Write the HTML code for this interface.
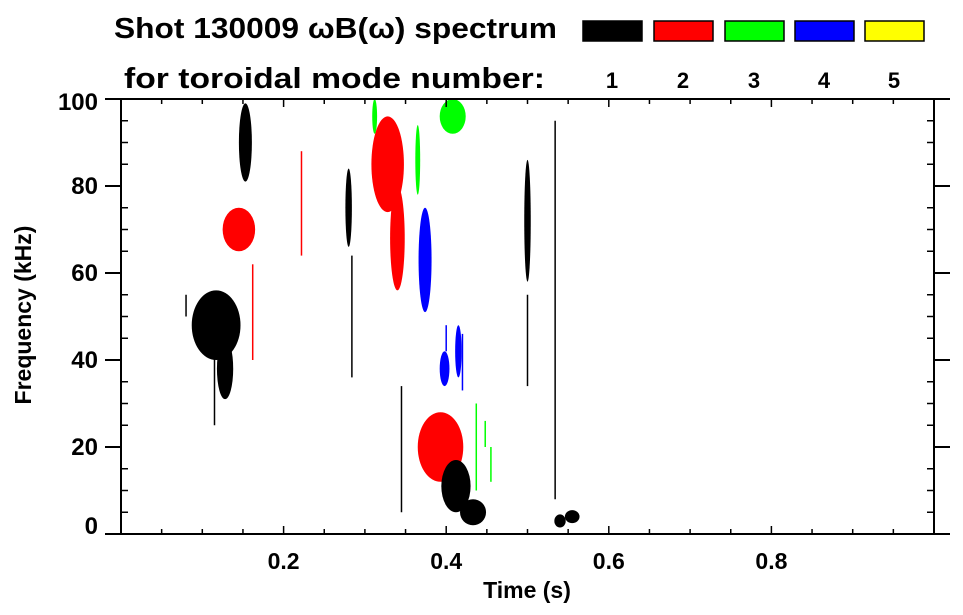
<!DOCTYPE html>
<html><head><meta charset="utf-8"><style>
html,body{margin:0;padding:0;background:#fff;}
svg{display:block;font-family:"Liberation Sans",sans-serif;font-weight:bold;}
</style></head><body>
<svg id="chart" width="963" height="615" viewBox="0 0 963 615" xmlns="http://www.w3.org/2000/svg">
<text x="114" y="38" font-size="29" textLength="443" lengthAdjust="spacingAndGlyphs">Shot 130009 ωB(ω) spectrum</text>
<text x="124" y="88" font-size="29" textLength="421" lengthAdjust="spacingAndGlyphs">for toroidal mode number:</text>
<g id="legend"></g>
<g id="marks"></g>
<g id="axes"></g>
<text x="527" y="598" font-size="23" text-anchor="middle">Time (s)</text>
<text transform="translate(31,315) rotate(-90)" font-size="23" text-anchor="middle">Frequency (kHz)</text>
</svg>
<script>
const modeColors = ["#000000","#ff0000","#00ff00","#0000ff","#ffff00"];
const modeLabels = ["1","2","3","4","5"];
const xTicks = [0.2,0.4,0.6,0.8];
const xTickLabels = ["0.2","0.4","0.6","0.8"];
const yTicks = [0,20,40,60,80,100];
const yTickLabels = ["0","20","40","60","80","100"];
// blobs: centre time, centre freq, half-width time, half-height freq, mode
const blobT  = [0.117,0.128,0.145,0.153,0.280,0.328,0.340,0.408,0.374,0.393,0.412,0.433,0.398,0.540,0.555,0.500,0.365,0.312,0.415];
const blobF  = [48,   38,   70,   90,   75,   85,   68,   96,   63,   20,   11,   5,    38,   3,    4,    72,   86,   96,   42];
const blobDT = [0.030,0.010,0.020,0.008,0.004,0.020,0.009,0.016,0.008,0.028,0.018,0.016,0.006,0.007,0.009,0.004,0.003,0.003,0.004];
const blobDF = [8,    7,    5,    9,    9,    11,   12,   4,    12,   8,    6,    3,    4,    1.5,  1.5,  14,   8,    4,    6];
const blobMode=[1,    1,    2,    1,    1,    2,    2,    3,    4,    2,    1,    1,    4,    1,    1,    1,    3,    3,    4];
// vertical streaks: time, freq start, freq end, mode
const lineT  = [0.284,0.222,0.162,0.345,0.400,0.420,0.437,0.448,0.455,0.534,0.500,0.080,0.115];
const lineF0 = [36,   88,   40,   5,    42,   33,   10,   20,   12,   8,    34,   50,   25];
const lineF1 = [64,   64,   62,   34,   48,   46,   30,   26,   20,   95,   55,   55,   42];
const lineMode=[1,    2,    2,    1,    4,    4,    3,    3,    3,    1,    1,    1,    1];

const NS="http://www.w3.org/2000/svg";
const X0=121,X1=934,Y0=534,Y1=99;
const xs=t=>X0+t*(X1-X0);
const ys=f=>Y0-f/100*(Y0-Y1);
function mk(tag,attrs,parent){const e=document.createElementNS(NS,tag);for(const k in attrs)e.setAttribute(k,attrs[k]);parent.appendChild(e);return e;}

const leg=document.getElementById('legend');
const boxX=[582,653,724,794,864];
modeColors.forEach((c,i)=>{
  const r=mk('rect',{x:boxX[i]+1,y:21,width:59,height:20,fill:c,stroke:'#000','stroke-width':1.5},leg);
  
  
  const t=mk('text',{x:boxX[i]+30,y:88,'font-size':22,'text-anchor':'middle'},leg);
  t.textContent=modeLabels[i];
  
  
});

const marks=document.getElementById('marks');
blobT.forEach((t,i)=>{
  const e=mk('ellipse',{cx:xs(t),cy:ys(blobF[i]),rx:blobDT[i]*(X1-X0),ry:blobDF[i]/100*(Y0-Y1),fill:modeColors[blobMode[i]-1]},marks);
  
  
});
lineT.forEach((t,i)=>{
  const l=mk('line',{x1:xs(t),x2:xs(t),y1:ys(lineF0[i]),y2:ys(lineF1[i]),stroke:modeColors[lineMode[i]-1],'stroke-width':1.5},marks);
  
  
});

const ax=document.getElementById('axes');
const frame=mk('rect',{x:X0,y:Y1,width:X1-X0,height:Y0-Y1,fill:'none',stroke:'#000','stroke-width':2},ax);


for(let k=1;k<20;k++){
  const t=k*0.05, major=(k%4===0);
  const len=major?8:5;
  mk('line',{x1:xs(t),x2:xs(t),y1:Y0,y2:Y0-len,stroke:'#000','stroke-width':1.5},ax);
  mk('line',{x1:xs(t),x2:xs(t),y1:Y1,y2:Y1+len,stroke:'#000','stroke-width':1.5},ax);
}
for(let k=0;k<=20;k++){
  const f=k*5, major=(k%4===0);
  if(major){
    mk('line',{x1:X0-16,x2:X0,y1:ys(f),y2:ys(f),stroke:'#000','stroke-width':2},ax);
    mk('line',{x1:X1,x2:X1+16,y1:ys(f),y2:ys(f),stroke:'#000','stroke-width':2},ax);
  }else{
    mk('line',{x1:X0,x2:X0+7,y1:ys(f),y2:ys(f),stroke:'#000','stroke-width':1.5},ax);
    mk('line',{x1:X1-7,x2:X1,y1:ys(f),y2:ys(f),stroke:'#000','stroke-width':1.5},ax);
  }
}
xTicks.forEach((t,i)=>{
  const e=mk('text',{x:xs(t),y:569,'font-size':23,'text-anchor':'middle'},ax);
  e.textContent=xTickLabels[i];
  
  
});
yTicks.forEach((f,i)=>{
  let y=ys(f)+8; if(f===0)y=ys(f); if(f===100)y=ys(f)+11;
  const e=mk('text',{x:98,y:y,'font-size':24,'text-anchor':'end'},ax);
  e.textContent=yTickLabels[i];
  
  
});
</script>
</body></html>
